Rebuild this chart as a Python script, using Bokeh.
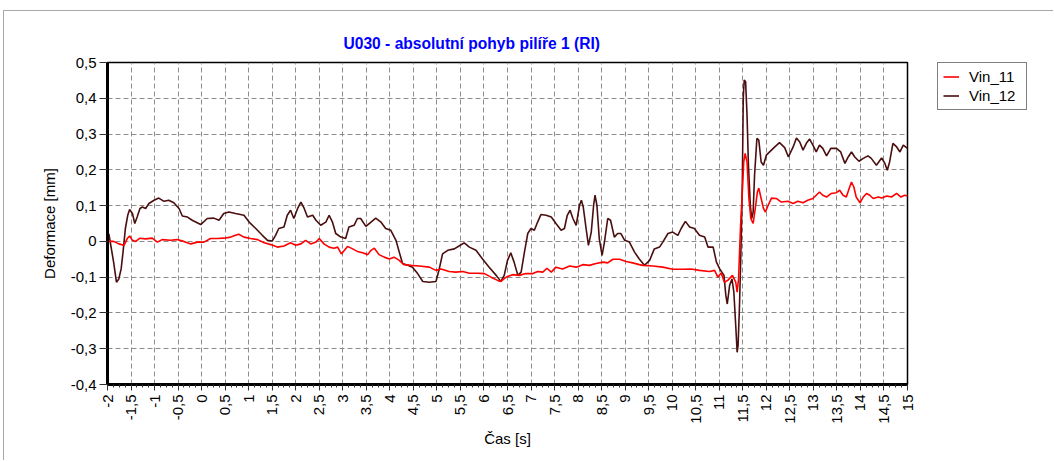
import numpy as np
from bokeh.plotting import figure
from bokeh.layouts import row
from bokeh.models import FixedTicker, Legend, LegendItem, Range1d
from bokeh.embed import file_html
from bokeh.resources import INLINE

title_text = "U030 - absolutní pohyb pilíře 1 (RI)"
x_label = "Čas [s]"
y_label = "Deformace [mm]"
series_names = ["Vin_11", "Vin_12"]
series_colors = ["#ff0000", "#4a0e0e"]

x_ticks = [-2, -1.5, -1, -0.5, 0, 0.5, 1, 1.5, 2, 2.5, 3, 3.5, 4, 4.5, 5, 5.5, 6, 6.5,
           7, 7.5, 8, 8.5, 9, 9.5, 10, 10.5, 11, 11.5, 12, 12.5, 13, 13.5, 14, 14.5, 15]
x_tick_labels = ["-2", "-1,5", "-1", "-0,5", "0", "0,5", "1", "1,5", "2", "2,5", "3", "3,5",
                 "4", "4,5", "5", "5,5", "6", "6,5", "7", "7,5", "8", "8,5", "9", "9,5",
                 "10", "10,5", "11", "11,5", "12", "12,5", "13", "13,5", "14", "14,5", "15"]
y_ticks = [-0.4, -0.3, -0.2, -0.1, 0, 0.1, 0.2, 0.3, 0.4, 0.5]
y_tick_labels = ["-0,4", "-0,3", "-0,2", "-0,1", "0", "0,1", "0,2", "0,3", "0,4", "0,5"]

# Vin_11 (red)
x_vin11 = [-2.00, -1.87, -1.76, -1.65, -1.58, -1.53, -1.47, -1.40, -1.31, -1.19, -1.05, -0.94,
           -0.84, -0.66, -0.52, -0.38, -0.23, -0.09, 0.05, 0.19, 0.33, 0.47, 0.62, 0.72, 0.79,
           0.90, 1.04, 1.19, 1.33, 1.47, 1.61, 1.75, 1.89, 2.00, 2.11, 2.21, 2.32, 2.43, 2.50,
           2.60, 2.71, 2.81, 2.89, 2.97, 3.10, 3.21, 3.31, 3.42, 3.53, 3.60, 3.67, 3.77, 3.88,
           3.99, 4.09, 4.20, 4.30, 4.45, 4.62, 4.84, 4.98, 5.09, 5.26, 5.40, 5.55, 5.69, 5.87,
           6.01, 6.15, 6.29, 6.36, 6.47, 6.61, 6.75, 6.89, 7.04, 7.14, 7.25, 7.34, 7.43, 7.53,
           7.67, 7.82, 7.96, 8.10, 8.24, 8.38, 8.53, 8.63, 8.74, 8.88, 9.02, 9.16, 9.30, 9.38,
           9.59, 9.80, 10.01, 10.23, 10.40, 10.58, 10.79, 10.90, 10.97, 11.04, 11.11, 11.18,
           11.28, 11.35, 11.38, 11.41, 11.45, 11.49, 11.52, 11.55, 11.59, 11.63, 11.67, 11.72,
           11.76, 11.81, 11.84, 11.89, 11.94, 11.98, 12.04, 12.11, 12.21, 12.32, 12.46, 12.57,
           12.67, 12.78, 12.88, 12.99, 13.06, 13.13, 13.20, 13.28, 13.38, 13.49, 13.56, 13.63,
           13.70, 13.76, 13.81, 13.86, 13.91, 13.99, 14.06, 14.13, 14.20, 14.27, 14.38, 14.45,
           14.56, 14.66, 14.77, 14.86, 14.94, 15.00]
y_vin11 = [0.0, 0.0, -0.007, -0.011, 0.008, 0.015, 0.003, 0.0, 0.009, 0.007, 0.009, -0.002,
           0.005, 0.003, 0.005, 0.0, -0.007, -0.002, -0.002, 0.008, 0.008, 0.009, 0.012, 0.017, 0.02,
           0.012, 0.008, 0.005, -0.004, -0.009, -0.016, -0.013, -0.004, -0.011, -0.007, 0.003, -0.007, -0.002, 0.008,
           -0.007, -0.016, -0.019, -0.016, -0.035, -0.014, -0.021, -0.028, -0.032, -0.037, -0.025, -0.019, -0.037, -0.044,
           -0.049, -0.044, -0.053, -0.065, -0.067, -0.069, -0.072, -0.081, -0.077, -0.084, -0.086, -0.084, -0.089, -0.089,
           -0.09, -0.1, -0.109, -0.112, -0.1, -0.093, -0.095, -0.09, -0.09, -0.084, -0.086, -0.075, -0.086, -0.072,
           -0.077, -0.069, -0.072, -0.065, -0.067, -0.062, -0.058, -0.06, -0.05, -0.05, -0.056, -0.06, -0.065, -0.067,
           -0.069, -0.072, -0.078, -0.078, -0.077, -0.081, -0.084, -0.081, -0.1, -0.088, -0.114, -0.109,
           -0.095, -0.114, -0.142, -0.105, 0.036, 0.138, 0.222, 0.246, 0.222, 0.12, 0.064, 0.05,
           0.087, 0.138, 0.149, 0.12, 0.092, 0.082, 0.101, 0.121, 0.12, 0.11, 0.112, 0.106,
           0.112, 0.108, 0.115, 0.12, 0.129, 0.138, 0.129, 0.124, 0.134, 0.136, 0.143, 0.129,
           0.124, 0.148, 0.166, 0.152, 0.124, 0.108, 0.124, 0.134, 0.129, 0.12, 0.124, 0.121,
           0.127, 0.124, 0.134, 0.124, 0.129, 0.127]

# Vin_12 (dark maroon)
x_vin12 = [-2.00, -1.97, -1.87, -1.81, -1.76, -1.71, -1.67, -1.62, -1.57, -1.53, -1.47, -1.42,
           -1.37, -1.31, -1.26, -1.19, -1.12, -1.01, -0.91, -0.80, -0.70, -0.59, -0.48, -0.41,
           -0.30, -0.20, -0.02, 0.12, 0.26, 0.37, 0.47, 0.58, 0.72, 0.90, 1.01, 1.15, 1.29, 1.40,
           1.50, 1.57, 1.64, 1.75, 1.82, 1.89, 1.96, 2.04, 2.11, 2.18, 2.25, 2.36, 2.43, 2.53,
           2.64, 2.71, 2.78, 2.85, 2.96, 3.06, 3.13, 3.24, 3.31, 3.38, 3.49, 3.60, 3.70, 3.81,
           3.91, 4.02, 4.13, 4.20, 4.27, 4.38, 4.48, 4.59, 4.70, 4.84, 4.98, 5.05, 5.12, 5.23,
           5.37, 5.47, 5.58, 5.69, 5.83, 5.97, 6.11, 6.26, 6.36, 6.43, 6.50, 6.57, 6.64, 6.72,
           6.79, 6.86, 6.93, 7.00, 7.07, 7.14, 7.21, 7.32, 7.43, 7.53, 7.64, 7.71, 7.77, 7.83,
           7.89, 7.96, 8.03, 8.07, 8.11, 8.17, 8.22, 8.28, 8.33, 8.36, 8.40, 8.45, 8.51, 8.56,
           8.63, 8.69, 8.77, 8.84, 8.91, 8.99, 9.09, 9.20, 9.30, 9.41, 9.52, 9.62, 9.73, 9.80,
           9.91, 10.01, 10.12, 10.19, 10.28, 10.37, 10.47, 10.58, 10.69, 10.76, 10.87, 10.94,
           11.01, 11.10, 11.14, 11.17, 11.22, 11.27, 11.31, 11.35, 11.38, 11.40, 11.43, 11.46,
           11.49, 11.51, 11.53, 11.56, 11.59, 11.62, 11.66, 11.69, 11.72, 11.75, 11.80, 11.84,
           11.89, 11.94, 12.00, 12.07, 12.18, 12.28, 12.39, 12.47, 12.57, 12.64, 12.71, 12.78,
           12.85, 12.92, 12.99, 13.06, 13.13, 13.20, 13.28, 13.37, 13.49, 13.58, 13.67, 13.74,
           13.81, 13.88, 13.97, 14.06, 14.16, 14.23, 14.34, 14.45, 14.52, 14.57, 14.62, 14.69,
           14.77, 14.84, 14.91, 15.00]
y_vin12 = [0.02, 0.02, -0.058, -0.114, -0.105, -0.077, -0.03, 0.036, 0.073, 0.089, 0.078, 0.05,
           0.068, 0.092, 0.096, 0.092, 0.106, 0.115, 0.121, 0.112, 0.115, 0.108, 0.092, 0.071,
           0.068, 0.059, 0.047, 0.064, 0.065, 0.059, 0.078, 0.082, 0.078, 0.073, 0.054, 0.036, 0.017, 0.003,
           0.001, 0.017, 0.036, 0.04, 0.073, 0.087, 0.064, 0.092, 0.110, 0.092, 0.068, 0.073, 0.059, 0.045,
           0.054, 0.073, 0.054, 0.022, 0.012, 0.008, 0.04, 0.045, 0.064, 0.064, 0.042, 0.054, 0.065, 0.054,
           0.036, 0.031, 0.003, -0.03, -0.062, -0.067, -0.072, -0.09, -0.112, -0.114, -0.112, -0.077, -0.035, -0.025,
           -0.021, -0.013, -0.004, -0.016, -0.025, -0.049, -0.072, -0.095, -0.112, -0.095, -0.053, -0.032, -0.058, -0.095,
           -0.086, -0.03, 0.022, 0.036, 0.031, 0.054, 0.075, 0.073, 0.068, 0.05, 0.031, 0.036, 0.073, 0.087,
           0.064, 0.045, 0.101, 0.115, 0.096, 0.036, -0.011, 0.026, 0.101, 0.129, 0.101, 0.008, -0.039, -0.002,
           0.064, 0.059, 0.012, 0.022, 0.022, 0.003, -0.002, -0.03, -0.049, -0.067, -0.053, -0.021, -0.016, -0.002,
           0.022, 0.026, 0.017, 0.036, 0.056, 0.04, 0.036, 0.017, 0.012, -0.016, -0.016, -0.058,
           -0.077, -0.095, -0.151, -0.175, -0.123, -0.105, -0.142, -0.235, -0.31, -0.291, -0.179, -0.03,
           0.166, 0.40, 0.451, 0.446, 0.353, 0.213, 0.101, 0.064, 0.082, 0.185, 0.288, 0.283,
           0.222, 0.213, 0.241, 0.25, 0.264, 0.276, 0.262, 0.236, 0.264, 0.289, 0.278, 0.255,
           0.274, 0.286, 0.269, 0.25, 0.269, 0.26, 0.239, 0.26, 0.26, 0.25, 0.218, 0.236,
           0.25, 0.236, 0.224, 0.232, 0.239, 0.232, 0.213, 0.233, 0.218, 0.199, 0.222, 0.274,
           0.264, 0.25, 0.269, 0.26]

FONT = "Liberation Sans"

# ---------------- main chart ----------------
p = figure(width=923, height=449, output_backend="svg", toolbar_location=None,
           x_range=Range1d(-2, 15), y_range=Range1d(-0.4, 0.5),
           min_border_left=103, min_border_right=20, min_border_top=51, min_border_bottom=76,
           background_fill_color="white", border_fill_color="white")

p.title.text = title_text
p.title.text_font = FONT
p.title.text_font_size = "15.6px"
p.title.text_font_style = "bold"
p.title.text_color = "#0000ff"
p.title.align = "left"
p.title.offset = 236
p.title.standoff = 21

minor = [float(v) for v in np.arange(-2, 15.0001, 0.125) if abs(v * 2 - round(v * 2)) > 1e-6]
p.xaxis.ticker = FixedTicker(ticks=x_ticks, minor_ticks=minor)
p.xaxis.major_label_overrides = {t: l for t, l in zip(x_ticks, x_tick_labels)}
p.xaxis.major_label_orientation = np.pi / 2
p.yaxis.ticker = FixedTicker(ticks=y_ticks, minor_ticks=[])
p.yaxis.major_label_overrides = {t: l for t, l in zip(y_ticks, y_tick_labels)}

p.xaxis.axis_label = x_label
p.yaxis.axis_label = y_label
for ax in (p.xaxis[0], p.yaxis[0]):
    ax.axis_line_color = "black"
    ax.axis_line_width = 3
    ax.major_tick_line_color = "#303030"
    ax.minor_tick_line_color = "#303030"
    ax.major_tick_in = 0
    ax.minor_tick_in = 0
    ax.major_label_text_font = FONT
    ax.major_label_text_font_size = "15px"
    ax.major_label_text_color = "black"
    ax.axis_label_text_font = FONT
    ax.axis_label_text_font_size = "15px"
    ax.axis_label_text_font_style = "normal"
    ax.axis_label_text_color = "black"
p.xaxis.major_tick_out = 6
p.xaxis.minor_tick_out = 3
p.xaxis.major_label_standoff = 4
p.xaxis.axis_label_standoff = 3
p.yaxis.major_tick_out = 8
p.yaxis.major_label_standoff = 3
p.yaxis.axis_label_standoff = 10

for g in (p.xgrid[0], p.ygrid[0]):
    g.grid_line_color = "#8c8c8c"
    g.grid_line_dash = "5 3"
    g.grid_line_width = 1

p.outline_line_color = "black"
p.outline_line_width = 1.5

p.line(x_vin12, y_vin12, line_color=series_colors[1], line_width=1.6)
p.line(x_vin11, y_vin11, line_color=series_colors[0], line_width=1.6)

# ---------------- legend panel (its lines lie outside its own ranges) ----------------
q = figure(width=126, height=449, output_backend="svg", toolbar_location=None,
           x_axis_location=None, y_axis_location=None,
           x_range=Range1d(100, 101), y_range=Range1d(100, 101),
           min_border_left=10, min_border_right=0, min_border_top=44, min_border_bottom=0,
           background_fill_color="white", border_fill_color="white")
q.outline_line_color = None
q.grid.visible = False
proxy11 = q.line(x_vin11, y_vin11, line_color=series_colors[0], line_width=1.6)
proxy12 = q.line(x_vin12, y_vin12, line_color=series_colors[1], line_width=1.6)

legend = Legend(items=[LegendItem(label=series_names[0], renderers=[proxy11]),
                       LegendItem(label=series_names[1], renderers=[proxy12])],
                location="top_left", orientation="vertical",
                border_line_color="black", border_line_width=1,
                background_fill_color="white", background_fill_alpha=1.0,
                padding=5, spacing=2, margin=0,
                glyph_width=16, glyph_height=17, label_height=17, label_width=52,
                label_standoff=10, label_text_font=FONT, label_text_font_size="15px",
                label_text_color="black")
q.add_layout(legend)

layout = row(p, q, spacing=0)
layout.styles = {"margin-left": "3px", "margin-top": "10px",
                 "border-left": "1px solid #a8a8a8", "border-top": "1px solid #a8a8a8"}

open("out.html", "w").write(file_html(layout, INLINE))
